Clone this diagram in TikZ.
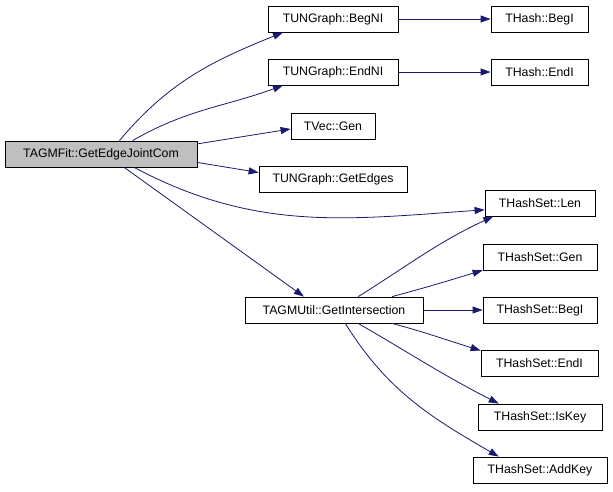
\documentclass[tikz,border=0pt]{standalone}
\usepackage{fontspec}
\setmainfont{Liberation Sans}
\usetikzlibrary{arrows.meta}
\definecolor{callline}{RGB}{25,25,112}
\definecolor{rootfill}{RGB}{191,191,191}
\tikzset{
  fn/.style={draw, line width=0.8pt, fill=white, minimum height=26pt, inner sep=0pt,
             font=\fontsize{12.3}{14}\selectfont},
  rootfn/.style={fn, fill=rootfill},
  call/.style={-{Triangle[length=10pt,width=7pt,fill=callline]}, draw=callline, line width=0.8pt},
}

\begin{document}
\begin{tikzpicture}[x=1pt, y=-1pt]
  \useasboundingbox (0,0) rectangle (613,491);

  % caller
  \node[rootfn, minimum width=192pt] (root) at (101,154) {TAGMFit::GetEdgeJointCom};

  % callees
  \node[fn, minimum width=130pt] (begni) at (333,19) {TUNGraph::BegNI};
  \node[fn, minimum width=97pt] (hbegi) at (539.5,19) {THash::BegI};
  \node[fn, minimum width=130pt] (endni) at (333,72) {TUNGraph::EndNI};
  \node[fn, minimum width=97pt] (hendi) at (539.5,72) {THash::EndI};
  \node[fn, minimum width=84pt] (vgen) at (333,126) {TVec::Gen};
  \node[fn, minimum width=148pt] (edges) at (333,179) {TUNGraph::GetEdges};
  \node[fn, minimum width=110pt] (len) at (540,203) {THashSet::Len};
  \node[fn, minimum width=178pt] (inter) at (334,310) {TAGMUtil::GetIntersection};
  \node[fn, minimum width=114pt] (sgen) at (540,257) {THashSet::Gen};
  \node[fn, minimum width=114pt] (sbegi) at (540,310) {THashSet::BegI};
  \node[fn, minimum width=117pt] (sendi) at (539.5,363) {THashSet::EndI};
  \node[fn, minimum width=124pt] (iskey) at (540,417) {THashSet::IsKey};
  \node[fn, minimum width=134pt] (addkey) at (540,470) {THashSet::AddKey};

  % calls from the caller
  \draw[call] (root.36) to[out=50, in=202] (begni.195);
  \draw[call] (root.23) to[out=30, in=200] (endni.195);
  \draw[call] (root.6) -- (vgen.184);
  \draw[call] (root.-5) -- (edges.175);
  \draw[call] (root.-22) to[out=-28, in=184] (len.187);
  \draw[call] (root.-30) -- (inter.156);

  \draw[call] (begni) -- (hbegi);
  \draw[call] (endni) -- (hendi);

  % calls from GetIntersection
  \draw[call] (inter.29) to[out=32, in=205] (len.196);
  \draw[call] (inter.13) to[out=15, in=197] (sgen.193);
  \draw[call] (inter) -- (sbegi);
  \draw[call] (inter.-13) to[out=-15, in=163] (sendi.168);
  \draw[call] (inter.-29) to[out=-30, in=153] (iskey.162);
  \draw[call] (inter.-50) to[out=-58, in=150] (addkey.162);
\end{tikzpicture}
\end{document}
